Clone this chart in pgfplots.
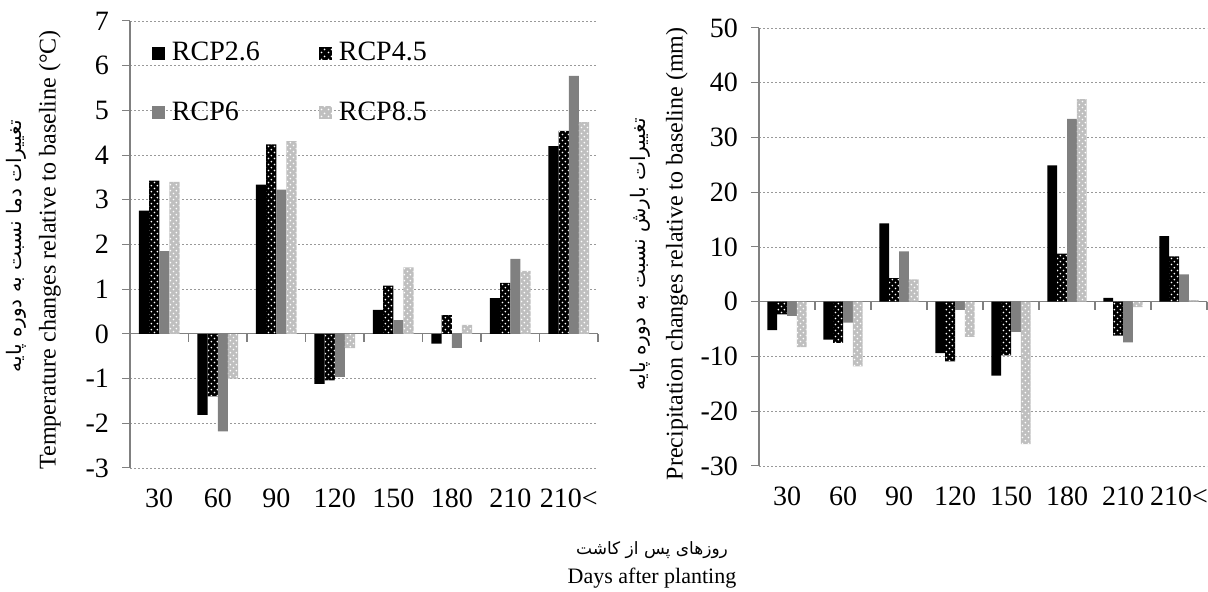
\documentclass[border=0pt]{standalone}
\usepackage{pgfplots}
\pgfplotsset{compat=1.18}
\usepackage{pgfplotstable}
\usetikzlibrary{patterns.meta}
\usepackage{fontspec}
\setmainfont{Liberation Serif}
\newfontfamily\farsi[Script=Arabic]{DejaVu Sans}
\TeXXeTstate=1

% white dots on a filled bar
\pgfdeclarepattern{
  name=wdots, type=uncolored,
  bottom left={\pgfpoint{0pt}{0pt}},
  top right={\pgfpoint{3.2pt}{3.2pt}},
  tile size={\pgfpoint{3.2pt}{3.2pt}},
  code={
    \pgfpathcircle{\pgfpoint{0.8pt}{0.8pt}}{0.5pt}
    \pgfpathcircle{\pgfpoint{2.4pt}{2.4pt}}{0.5pt}
    \pgfusepath{fill}
  }
}

\pgfplotstableread{
g r26 r45 r6 r85
0 2.76 3.43 1.85 3.40
1 -1.81 -1.40 -2.18 -1.00
2 3.34 4.24 3.23 4.31
3 -1.12 -1.04 -0.96 -0.32
4 0.54 1.08 0.31 1.49
5 -0.22 0.42 -0.31 0.20
6 0.80 1.14 1.68 1.41
7 4.20 4.54 5.77 4.74
}\temptable

\pgfplotstableread{
g r26 r45 r6 r85
0 -5.2 -2.3 -2.6 -8.3
1 -6.9 -7.5 -3.8 -11.8
2 14.3 4.3 9.2 4.1
3 -9.4 -10.9 -1.5 -6.4
4 -13.5 -9.8 -5.5 -26.0
5 24.9 8.8 33.4 37.0
6 0.7 -6.2 -7.4 -1.0
7 12.0 8.3 5.0 0.3
}\prectable

\pgfplotsset{
  rcpA/.style={fill=black, draw=none},
  rcpB/.style={fill=black, draw=none, postaction={pattern=wdots, pattern color=white}},
  rcpC/.style={fill=gray, draw=none},
  rcpD/.style={fill=black!25, draw=none, postaction={pattern=wdots, pattern color=white}},
  common/.style={
    scale only axis,
    ybar=0pt, bar width=0.175,
    xmin=-0.5, xmax=7.5,
    xtick={0,...,7},
    xticklabels={30,60,90,120,150,180,210,210<},
    axis line style={draw=none},
    ytick pos=left, tick align=outside,
    major tick length=4pt,
    ytick style={gray, line width=0.5pt},
    xtick style={draw=none},
    ymajorgrids,
    grid style={gray!80, dash pattern=on 1.2pt off 0.8pt, line width=0.4pt},
    tick label style={font=\fontsize{14}{16}\selectfont},
    xticklabel style={yshift=-3pt},
    yticklabel style={xshift=-3pt},
    /pgf/number format/assume math mode=true,
    clip=false,
  },
}

\begin{document}
\begin{tikzpicture}
\path[use as bounding box] (-65pt,-62pt) rectangle (539pt,234pt);

\begin{axis}[common,
  width=234pt, height=223.5pt,
  ymin=-3, ymax=7, ytick={-3,...,7},
  legend columns=2, legend cell align=left,
  legend style={at={(rel axis cs:0.046,0.962)}, anchor=north west,
    draw=none, fill=none, inner sep=0pt,
    font=\fontsize{14}{16}\selectfont, row sep=15pt,
    /tikz/every odd column/.append style={column sep=1.5pt},
    /tikz/every even column/.append style={column sep=27.5pt}},
  legend image code/.code={\path[#1] (0pt,-3.25pt) rectangle (6.5pt,3.25pt);},
]
\draw[gray, line width=0.6pt] (axis cs:-0.5,0) -- (axis cs:7.5,0);
\pgfplotsinvokeforeach{0.5,1.5,2.5,3.5,4.5,5.5,6.5,7.5}{
  \draw[gray, line width=0.6pt] (axis cs:#1,0) -- ++(0pt,-4pt);}
\draw[gray, line width=0.6pt] (rel axis cs:0,0) -- (rel axis cs:0,1);
\addplot[rcpA] table[x=g, y=r26] {\temptable};
\addplot[rcpB] table[x=g, y=r45] {\temptable};
\addplot[rcpC] table[x=g, y=r6] {\temptable};
\addplot[rcpD] table[x=g, y=r85] {\temptable};
\legend{RCP2.6,RCP4.5,RCP6,RCP8.5}
\end{axis}

\begin{axis}[common,
  at={(314.5pt,1pt)},
  width=224pt, height=219pt,
  ymin=-30, ymax=50, ytick={-30,-20,...,50},
]
\draw[gray, line width=0.6pt] (axis cs:-0.5,0) -- (axis cs:7.5,0);
\pgfplotsinvokeforeach{0.5,1.5,2.5,3.5,4.5,5.5,6.5,7.5}{
  \draw[gray, line width=0.6pt] (axis cs:#1,0) -- ++(0pt,-4pt);}
\draw[gray, line width=0.6pt] (rel axis cs:0,0) -- (rel axis cs:0,1);
\addplot[rcpA] table[x=g, y=r26] {\prectable};
\addplot[rcpB] table[x=g, y=r45] {\prectable};
\addplot[rcpC] table[x=g, y=r6] {\prectable};
\addplot[rcpD] table[x=g, y=r85] {\prectable};
\end{axis}

% axis titles
\node[rotate=90, font=\fontsize{12}{14}\selectfont] at (-40pt,109pt)
  {Temperature changes relative to baseline (°C)};
\node[rotate=90, font=\farsi\fontsize{10}{12}\selectfont] at (-57pt,111pt)
  {\beginR تغییرات دما نسبت به دوره پایه\endR};
\node[rotate=90, font=\fontsize{12}{14}\selectfont] at (273.5pt,107pt)
  {Precipitation changes relative to baseline (mm)};
\node[rotate=90, font=\farsi\fontsize{10}{12}\selectfont] at (255pt,107pt)
  {\beginR تغییرات بارش نسبت به دوره پایه\endR};
\node[font=\farsi\fontsize{8.5}{10}\selectfont] at (261pt,-41pt)
  {\beginR روزهای پس از کاشت\endR};
\node[font=\fontsize{11}{13}\selectfont] at (261pt,-55pt) {Days after planting};
\end{tikzpicture}
\end{document}
